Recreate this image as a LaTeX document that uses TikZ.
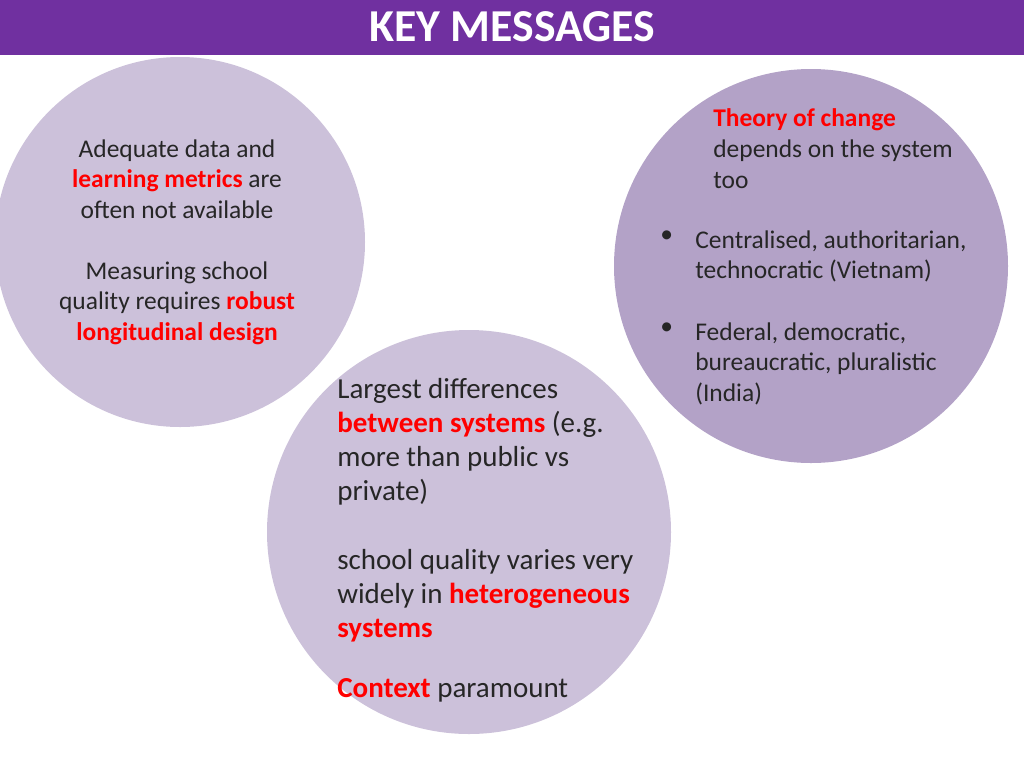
\documentclass[tikz,border=0pt]{standalone}
\usepackage{fontspec}
\setmainfont{Carlito}
\definecolor{titlepurple}{HTML}{7030A0}
\definecolor{lightlav}{HTML}{CCC1DA}
\definecolor{darklav}{HTML}{B3A2C7}
\definecolor{keyred}{HTML}{FF0000}
\newcommand{\hot}[1]{\textcolor{keyred}{\textbf{#1}}}
\tikzset{
  bubble/.style={fill=#1, draw=none},
  msg/.style={inner sep=0pt, text=black!85, font=\fontsize{14.5}{17.6}\selectfont},
  bigmsg/.style={inner sep=0pt, text=black!85, font=\fontsize{16.5}{19.35}\selectfont}
}
\begin{document}
\begin{tikzpicture}[x=0.02cm, y=-0.02cm]
  \useasboundingbox (0,0) rectangle (1024,768);
  % title bar
  \fill[titlepurple] (0,0) rectangle (1024,55);
  \node[text=white, font=\fontsize{26}{30}\selectfont\bfseries] (title) at (512,27) {KEY MESSAGES};
  % circles
  \begin{scope}
    \clip (0,0) rectangle (1024,768);
    \fill[bubble=lightlav] (180,242) circle (185);
  \end{scope}
  \fill[bubble=darklav] (811,266) circle (197);
  \fill[bubble=lightlav] (469,532) circle (202);
  % left circle
  \node[msg, align=center, anchor=north] (data) at (177,139)
    {Adequate data and\\ \hot{learning metrics} are\\ often not available};
  \node[msg, align=center, anchor=north] (quality) at (177,261)
    {Measuring school\\ quality requires \hot{robust}\\ \hot{longitudinal design}};
  % middle circle
  \node[bigmsg, align=left, anchor=north west] (diff) at (337,378)
    {Largest differences\\ \hot{between systems} (e.g.\\ more than public vs\\ private)};
  \node[bigmsg, align=left, anchor=north west] (varies) at (337,549)
    {school quality varies very\\ widely in \hot{heterogeneous}\\ \hot{systems}};
  \node[bigmsg, align=left, anchor=north west] (context) at (337,678)
    {\hot{Context} paramount};
  % right circle
  \node[msg, align=left, anchor=north west] (theory) at (713,108)
    {\hot{Theory of change}\\ depends on the system\\ too};
  \node[msg, anchor=north west] (dotA) at (660,230) {•};
  \node[msg, align=left, anchor=north west] (vietnam) at (695,230)
    {Centralised, authoritarian,\\ technocratic (Vietnam)};
  \node[msg, anchor=north west] (dotB) at (660,322) {•};
  \node[msg, align=left, anchor=north west] (india) at (695,322)
    {Federal, democratic,\\ bureaucratic, pluralistic\\ (India)};
\end{tikzpicture}
\end{document}
